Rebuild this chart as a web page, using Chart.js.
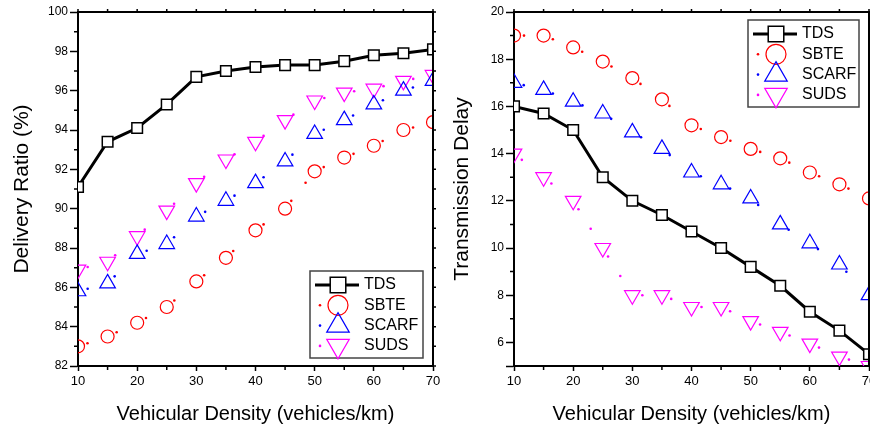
<!DOCTYPE html>
<html>
<head>
<meta charset="utf-8">
<script src="https://cdn.jsdelivr.net/npm/chart.js@4.4.1/dist/chart.umd.min.js"></script>
<style>
  body { margin: 0; background: #fff; overflow: hidden; }
  #wrap { position: relative; width: 870px; height: 432px; }
  canvas { position: absolute; top: 0; }
</style>
</head>
<body>
<div id="wrap">
  <canvas id="chart-ratio" width="440" height="432" style="left:0"></canvas>
  <canvas id="chart-delay" width="430" height="432" style="left:440px"></canvas>
</div>
<script>
// ─── Data ───
const density = [10, 15, 20, 25, 30, 35, 40, 45, 50, 55, 60, 65, 70];
const xTicks = [10, 20, 30, 40, 50, 60, 70];
const xMinor = [15, 25, 35, 45, 55, 65];

// Delivery Ratio (%)
const ratioTDS   = [91.1, 93.4, 94.1, 95.3, 96.7, 97.0, 97.2, 97.3, 97.3, 97.5, 97.8, 97.9, 98.1];
const ratioSBTE  = [83.0, 83.5, 84.2, 85.0, 86.3, 87.5, 88.9, 90.0, 91.9, 92.6, 93.2, 94.0, 94.4];
const ratioSCARF = [85.8, 86.2, 87.7, 88.2, 89.6, 90.4, 91.3, 92.4, 93.8, 94.5, 95.3, 96.0, 96.5];
const ratioSUDS  = [86.9, 87.3, 88.6, 89.9, 91.3, 92.5, 93.4, 94.5, 95.5, 95.9, 96.1, 96.5, 96.8];

// Transmission Delay
const delayTDS   = [16.0, 15.7, 15.0, 13.0, 12.0, 11.4, 10.7, 10.0, 9.2, 8.4, 7.3, 6.5, 5.5];
const delaySBTE  = [19.0, 19.0, 18.5, 17.9, 17.2, 16.3, 15.2, 14.7, 14.2, 13.8, 13.2, 12.7, 12.1];
const delaySCARF = [17.0, 16.7, 16.2, 15.7, 14.9, 14.2, 13.2, 12.7, 12.1, 11.0, 10.2, 9.3, 8.0];
const delaySUDS  = [14.0, 13.0, 12.0, 10.0, 8.0, 8.0, 7.5, 7.5, 6.9, 6.45, 5.95, 5.4, 5.0];

const FONT = '"Liberation Sans", Arial, sans-serif';
Chart.defaults.font.family = FONT;
Chart.defaults.color = '#000';

// ─── Series styles ───
function dotted(color, shape, r, rot) {
  return {
    borderColor: color, showLine: false, dotLine: true,
    pointStyle: shape, pointRadius: r, pointRotation: rot,
    pointBackgroundColor: 'rgba(0,0,0,0)', pointBorderColor: color, pointBorderWidth: 1.2,
    legendRadius: shape === 'circle' ? 10 : 13
  };
}
const styleTDS = {
  borderColor: '#000', borderWidth: 3, pointStyle: 'rect', pointRadius: 7.5,
  pointBackgroundColor: '#fff', pointBorderColor: '#000', pointBorderWidth: 1.5, legendRadius: 11
};
const styleSBTE = dotted('#ff0000', 'circle', 6.5, 0);
const styleSCARF = dotted('#0000ff', 'triangle', 9, 0);
const styleSUDS = dotted('#ff00ff', 'triangle', 9, 180);

function series(label, values, style) {
  return Object.assign({ label, data: values.map((v, i) => ({ x: density[i], y: v })) }, style);
}

// ─── Sparse dotted connectors (gap around each marker, like the original) ───
const sparseDots = {
  id: 'sparseDots',
  beforeDatasetsDraw(chart) {
    const { ctx, chartArea: a } = chart;
    ctx.save();
    ctx.beginPath();
    ctx.rect(a.left, a.top, a.right - a.left, a.bottom - a.top);
    ctx.clip();
    chart.data.datasets.forEach((ds, i) => {
      if (!ds.dotLine) return;
      const pts = chart.getDatasetMeta(i).data;
      ctx.fillStyle = ds.borderColor;
      for (let k = 1; k < pts.length; k++) {
        const p0 = pts[k - 1], p1 = pts[k];
        const dx = p1.x - p0.x, dy = p1.y - p0.y;
        const len = Math.hypot(dx, dy);
        for (let d = 10; d < len - 14; d += 23) {
          ctx.beginPath();
          ctx.arc(p0.x + dx * d / len, p0.y + dy * d / len, 1.3, 0, Math.PI * 2);
          ctx.fill();
        }
      }
    });
    ctx.restore();
  }
};

// ─── Frame, x labels, minor ticks ───
const frameTicks = {
  id: 'frameTicks',
  afterDraw(chart) {
    const { ctx, chartArea: a, scales: { x, y } } = chart;
    ctx.save();
    ctx.strokeStyle = '#000';
    ctx.lineWidth = 2;
    ctx.beginPath();
    ctx.moveTo(a.left, a.top);
    ctx.lineTo(a.right, a.top);
    ctx.lineTo(a.right, a.bottom);
    ctx.stroke();

    ctx.lineWidth = 1.5;
    ctx.beginPath();
    xMinor.forEach(v => {
      const px = x.getPixelForValue(v);
      ctx.moveTo(px, a.bottom); ctx.lineTo(px, a.bottom + 4);
    });
    xTicks.concat(xMinor).forEach(v => {
      const px = x.getPixelForValue(v);
      ctx.moveTo(px, a.top); ctx.lineTo(px, a.top - 3);
    });
    const yt = y.ticks.map(t => t.value);
    const yMinor = [];
    for (let i = 1; i < yt.length; i++) {
      if (yt[i] - yt[i - 1] === 2) yMinor.push(yt[i - 1] + 1);
    }
    yMinor.forEach(v => {
      const py = y.getPixelForValue(v);
      ctx.moveTo(a.left, py); ctx.lineTo(a.left - 4, py);
    });
    yt.concat(yMinor).forEach(v => {
      const py = y.getPixelForValue(v);
      ctx.moveTo(a.right, py); ctx.lineTo(a.right + 3, py);
    });
    ctx.stroke();

    // x tick labels (drawn here so the last label does not shrink the plot)
    ctx.fillStyle = '#000';
    ctx.font = '13px ' + FONT;
    ctx.textAlign = 'center';
    ctx.textBaseline = 'top';
    xTicks.forEach(v => ctx.fillText(String(v), x.getPixelForValue(v), a.bottom + 9));
    ctx.restore();
  }
};

// ─── Boxed legend: line sample + marker + label ───
const boxLegend = {
  id: 'boxLegend',
  afterDraw(chart, args, opts) {
    const { ctx } = chart;
    ctx.save();
    ctx.fillStyle = '#fff';
    ctx.fillRect(opts.x, opts.y, opts.w, opts.h);
    ctx.strokeStyle = '#444';
    ctx.lineWidth = 1.5;
    ctx.strokeRect(opts.x, opts.y, opts.w, opts.h);
    chart.data.datasets.forEach((ds, i) => {
      const cy = opts.y + 14 + i * 20.3;
      if (ds.dotLine) {
        ctx.fillStyle = ds.borderColor;
        ctx.beginPath();
        ctx.arc(opts.x + 10, cy, 1.3, 0, Math.PI * 2);
        ctx.fill();
      } else {
        ctx.strokeStyle = ds.borderColor;
        ctx.lineWidth = ds.borderWidth;
        ctx.beginPath();
        ctx.moveTo(opts.x + 5, cy); ctx.lineTo(opts.x + 49, cy);
        ctx.stroke();
      }
      ctx.fillStyle = ds.pointBackgroundColor;
      ctx.strokeStyle = ds.pointBorderColor;
      ctx.lineWidth = ds.pointBorderWidth;
      Chart.helpers.drawPoint(ctx, {
        pointStyle: ds.pointStyle, rotation: ds.pointRotation || 0,
        radius: ds.legendRadius, borderWidth: ds.pointBorderWidth
      }, opts.x + 28, cy);
      ctx.fillStyle = '#000';
      ctx.font = '16px ' + FONT;
      ctx.textAlign = 'left';
      ctx.textBaseline = 'middle';
      ctx.fillText(ds.label, opts.x + 54, cy);
    });
    ctx.restore();
  }
};

function makeChart(id, datasets, yMin, yMax, yTitle, yWidth, padRight, legendBox) {
  return new Chart(document.getElementById(id), {
    type: 'line',
    data: { datasets },
    plugins: [sparseDots, frameTicks, boxLegend],
    options: {
      responsive: false,
      animation: false,
      events: [],
      layout: { autoPadding: false, padding: { top: 12, right: padRight, left: 0, bottom: 0 } },
      plugins: { legend: { display: false }, tooltip: { enabled: false }, boxLegend: legendBox },
      scales: {
        x: {
          type: 'linear', min: 10, max: 70,
          afterBuildTicks: s => { s.ticks = xTicks.map(v => ({ value: v })); },
          afterFit: s => { s.height = 66; },
          border: { color: '#000', width: 2 },
          grid: { drawOnChartArea: false, color: '#000', tickLength: 5, tickWidth: 1.5 },
          ticks: { display: false },
          title: {
            display: true, text: 'Vehicular Density (vehicles/km)',
            font: { size: 20 }, padding: { top: 0, bottom: 6 }
          }
        },
        y: {
          type: 'linear', min: yMin, max: yMax,
          afterFit: s => { s.width = yWidth; },
          border: { color: '#000', width: 2 },
          grid: { drawOnChartArea: false, color: '#000', tickLength: 8, tickWidth: 1.5 },
          ticks: { stepSize: 2, font: { size: 12 }, padding: 2, callback: v => (v % 2 ? '' : v) },
          title: {
            display: true, text: yTitle,
            font: { size: 21 }, padding: { top: 10, bottom: 0 }
          }
        }
      }
    }
  });
}

makeChart('chart-ratio', [
  series('TDS', ratioTDS, styleTDS),
  series('SBTE', ratioSBTE, styleSBTE),
  series('SCARF', ratioSCARF, styleSCARF),
  series('SUDS', ratioSUDS, styleSUDS)
], 82, 100, 'Delivery Ratio (%)', 78, 7, { x: 310, y: 271, w: 113, h: 87 });

makeChart('chart-delay', [
  series('TDS', delayTDS, styleTDS),
  series('SBTE', delaySBTE, styleSBTE),
  series('SCARF', delaySCARF, styleSCARF),
  series('SUDS', delaySUDS, styleSUDS)
], 5, 20, 'Transmission Delay', 74, 1, { x: 308, y: 20, w: 111, h: 87 });
</script>
</body>
</html>
